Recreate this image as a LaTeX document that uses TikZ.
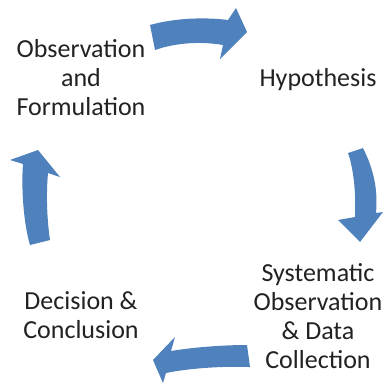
\documentclass[tikz,border=0pt]{standalone}
\usepackage{fontspec}
\setmainfont{Carlito}
\definecolor{arrowblue}{HTML}{4F81BD}
\definecolor{txt}{HTML}{222222}
\begin{document}
\begin{tikzpicture}[x=1pt,y=-1pt,
  label/.style={align=center,inner sep=0pt,text=txt,font=\fontsize{26}{29}\selectfont},
  bigarrow/.style={fill=arrowblue,draw=none}]
\useasboundingbox (0,0) rectangle (383,383);
\fill[white] (0,0) rectangle (383,383);
% labels
\node[label] (obs) at (81,78) {Observation\\and\\Formulation};
\node[label] (hyp) at (318,80) {Hypothesis};
\node[label] (sys) at (318,316) {Systematic\\Observation\\\& Data\\Collection};
\node[label] (dec) at (81,315) {Decision \&\\Conclusion};
% top arrow
\path[bigarrow] (150,25) .. controls (175,18) and (205,17) .. (228,20) -- (236,8) -- (247,32) -- (220,59) -- (223,45) .. controls (200,41) and (175,43) .. (155,50) -- cycle;
% right arrow
\path[bigarrow] (348,153) -- (363,148) .. controls (374,170) and (378,190) .. (376,213) -- (383,212) -- (360,242) -- (338,220) -- (355,217) .. controls (356,195) and (354,170) .. (348,153) -- cycle;
% bottom arrow
\path[bigarrow] (247,345) .. controls (225,345) and (195,347) .. (171,351) -- (175,337) -- (153,360) -- (163,383) -- (166,373) .. controls (190,368) and (225,366) .. (250,367) -- cycle;
% left arrow
\path[bigarrow] (30,245) .. controls (24,225) and (21,190) .. (23,164) -- (10,160) -- (38,150) -- (60,177) -- (48,173) .. controls (46,195) and (47,220) .. (50,240) -- cycle;
\end{tikzpicture}
\end{document}
